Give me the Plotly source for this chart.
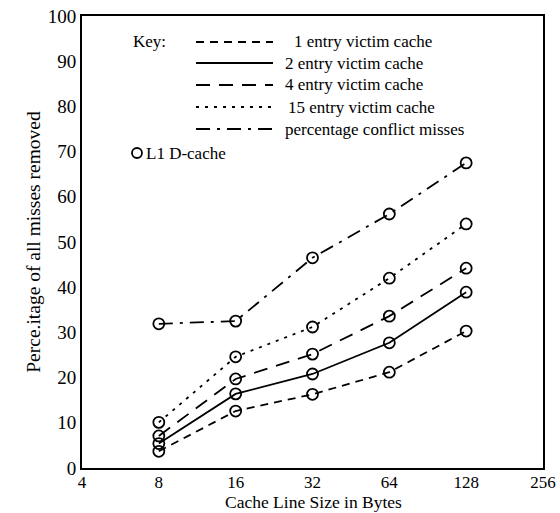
import plotly.graph_objects as go

line_sizes = [8, 16, 32, 64, 128]
x_ticks = [4, 8, 16, 32, 64, 128, 256]
y_ticks = list(range(0, 101, 10))

entry1 = [3.7, 12.6, 16.3, 21.2, 30.3]
entry2 = [5.4, 16.4, 20.8, 27.7, 38.9]
entry4 = [7.1, 19.7, 25.2, 33.6, 44.2]
entry15 = [10.1, 24.6, 31.2, 42.0, 54.0]
conflict = [31.9, 32.5, 46.5, 56.2, 67.5]

series_names = ["1 entry victim cache", "2 entry victim cache", "4 entry victim cache",
                "15 entry victim cache", "percentage conflict misses"]
series_values = [entry1, entry2, entry4, entry15, conflict]
dashes = ["8px,6px", "solid", "14px,9px", "3px,6px", "14px,7px,3px,7px"]

FONT = "Liberation Serif"
fig = go.Figure()
for name, vals, d in zip(series_names, series_values, dashes):
    fig.add_trace(go.Scatter(
        x=line_sizes, y=vals, mode="lines+markers", name=name,
        line=dict(color="black", width=1.8, dash=d),
        marker=dict(symbol="circle-open", size=11, color="black", line=dict(width=1.8)),
        showlegend=False))

# plot-area geometry in pixels (for the hand-drawn key)
L, T, W, H = 82, 16, 461, 452
def px(xp): return (xp - L) / W
def py(yp): return (T + H - yp) / H

KEYFONT = dict(family=FONT, size=17, color="black")
shapes = []
annotations = []
annotations.append(dict(x=px(131), y=py(42), xref="paper", yref="paper", text="Key:",
                        showarrow=False, xanchor="left", yanchor="middle", font=KEYFONT))
rows_y = [42, 63, 85, 107, 129]
text_x = [292, 283, 283, 286, 283]
for name, d, ry, tx in zip(series_names, dashes, rows_y, text_x):
    shapes.append(dict(type="line", xref="paper", yref="paper",
                       x0=px(196), x1=px(273), y0=py(ry), y1=py(ry),
                       line=dict(color="black", width=1.8, dash=d)))
    annotations.append(dict(x=px(tx), y=py(ry), xref="paper", yref="paper", text=name,
                            showarrow=False, xanchor="left", yanchor="middle", font=KEYFONT))
shapes.append(dict(type="circle", xref="paper", yref="paper",
                   x0=px(132), x1=px(142), y0=py(148), y1=py(158),
                   line=dict(color="black", width=1.8)))
annotations.append(dict(x=px(144), y=py(153), xref="paper", yref="paper", text="L1 D-cache",
                        showarrow=False, xanchor="left", yanchor="middle", font=KEYFONT))
# x-axis title, placed just under the tick labels
annotations.append(dict(x=px(313), y=py(513), xref="paper", yref="paper",
                        text="Cache Line Size in Bytes", showarrow=False,
                        xanchor="center", yanchor="bottom", borderpad=0,
                        font=dict(family=FONT, size=17.5, color="black")))

fig.update_layout(
    width=560, height=513,
    margin=dict(l=82, r=17, t=16, b=45),
    paper_bgcolor="white", plot_bgcolor="white",
    font=dict(family=FONT, size=18, color="black"),
    shapes=shapes, annotations=annotations,
)
fig.update_xaxes(type="log", range=[0.60206, 2.40824], tickvals=x_ticks,
                 ticktext=[str(v) for v in x_ticks], showgrid=False, zeroline=False,
                 showline=True, linecolor="black", linewidth=2, mirror=True, ticks="",
                 ticklabelstandoff=-2,
                 automargin=False, tickfont=dict(family=FONT, size=17))
fig.update_yaxes(range=[0, 100], tickvals=y_ticks, showgrid=False, zeroline=False,
                 showline=True, linecolor="black", linewidth=2, mirror=True, ticks="",
                 automargin=False, tickfont=dict(family=FONT, size=19),
                 title=dict(text="Perce.itage of all misses removed", standoff=2,
                            font=dict(family=FONT, size=19.5)))
fig.write_html("out.html", config={"displayModeBar": False},
               post_script="document.body.style.margin='0';document.body.style.overflow='hidden';")
